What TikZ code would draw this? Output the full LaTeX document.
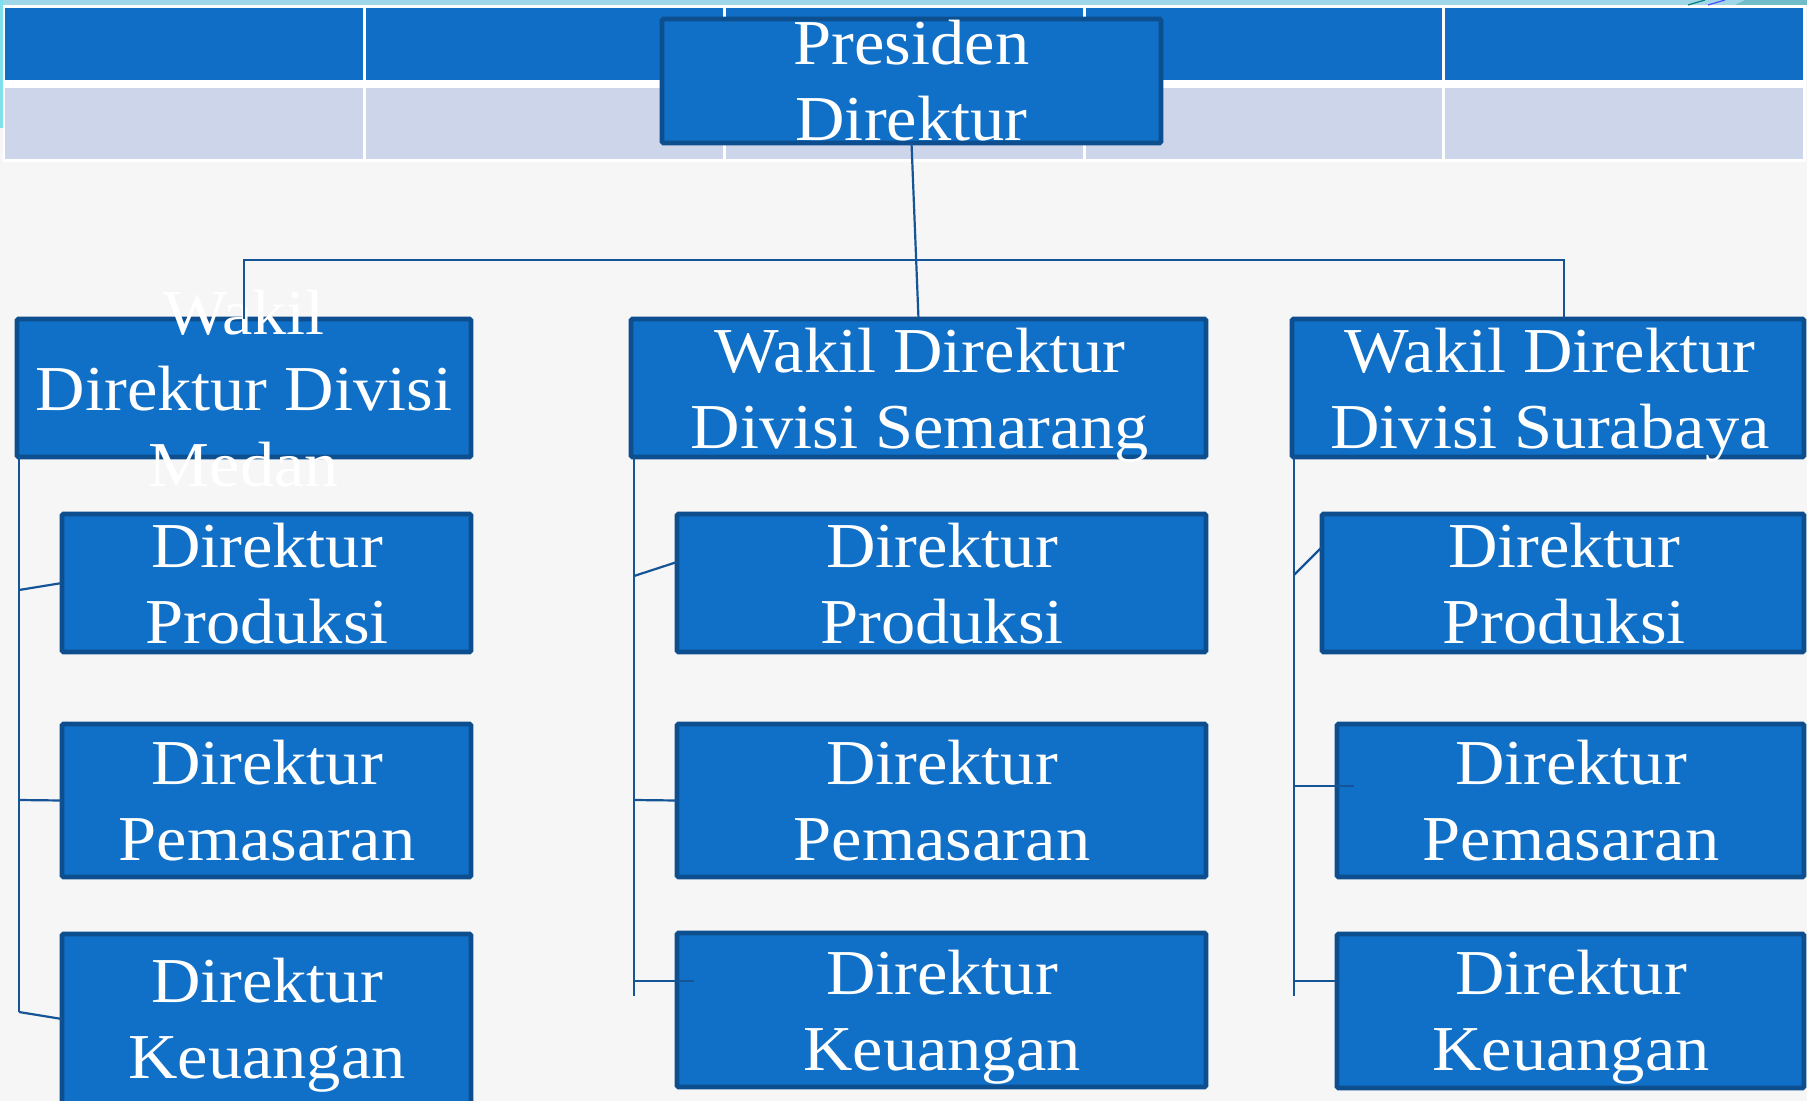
\documentclass[tikz,border=0pt]{standalone}
\usepackage{fontspec}
\setmainfont{Liberation Serif}[FakeStretch=1.07]
\usetikzlibrary{fit}
\definecolor{bg}{RGB}{246,246,246}
\definecolor{boxfill}{RGB}{16,111,198}
\definecolor{boxline}{RGB}{13,78,142}
\definecolor{hdr}{RGB}{16,110,198}
\definecolor{rowlight}{RGB}{205,213,234}
\definecolor{conn}{RGB}{22,84,152}
\definecolor{band}{RGB}{160,215,232}
\begin{document}
\begin{tikzpicture}[x=0.5pt,y=-0.5pt,
  bx/.style={draw=boxline, fill=boxfill, line width=2.4pt, inner sep=0pt, outer sep=0pt, rounded corners=0.8pt},
  txt/.style={text=white, align=center, inner sep=0pt, font=\fontsize{32}{38}\selectfont},
  cn/.style={draw=conn, line width=1.1pt}]
\useasboundingbox (0,0) rectangle (1807,1101);
\fill[bg] (0,0) rectangle (1807,1101);
% table in the background
\fill[white] (3,5) rectangle (1806,162);
\foreach \a/\b in {5/363, 366/723, 726/1083, 1086/1442, 1445/1803} {
  \fill[hdr] (\a,8) rectangle (\b,80);
  \fill[rowlight] (\a,88) rectangle (\b,159);
}
\fill[band] (0,0) rectangle (1807,5);
\fill[band!80!cyan] (0,0) rectangle (2.5,128);
\fill[band!70!teal] (1745,0) -- (1807,0) -- (1807,5) -- (1735,5) -- cycle;
\draw[teal, line width=0.6pt] (1688,5) -- (1705,0);
\draw[blue!70, line width=0.6pt] (1708,5) -- (1725,0);
% boxes
\node[bx, fit={(662,19) (1161,143)}] (pd) {};
\node[txt] (pdT) at (911.5,87.8) {\strut Presiden\\\strut Direktur};
\node[bx, fit={(17,319) (471,457)}] (wm) {};
\node[txt] (wmT) at (244,394.8) {\strut Wakil\\\strut Direktur Divisi\\\strut Medan};
\node[bx, fit={(631,319) (1206,457)}] (ws) {};
\node[txt] (wsT) at (920,394.8) {\strut Wakil Direktur\\\strut Divisi Semarang};
\node[bx, fit={(1292,319) (1804,457)}] (wb) {};
\node[txt] (wbT) at (1550,394.8) {\strut Wakil Direktur\\\strut Divisi Surabaya};
\node[bx, fit={(62,514) (471,652)}] (mp) {};
\node[txt] (mpT) at (267,589.8) {\strut Direktur\\\strut Produksi};
\node[bx, fit={(62,724) (471,877)}] (mm) {};
\node[txt] (mmT) at (267,806.8) {\strut Direktur\\\strut Pemasaran};
\node[bx, fit={(62,934) (471,1104)}] (mk) {};
\node[txt] (mkT) at (267,1024.8) {\strut Direktur\\\strut Keuangan};
\node[bx, fit={(677,514) (1206,652)}] (sp) {};
\node[txt] (spT) at (942,589.8) {\strut Direktur\\\strut Produksi};
\node[bx, fit={(677,724) (1206,877)}] (sm) {};
\node[txt] (smT) at (942,806.8) {\strut Direktur\\\strut Pemasaran};
\node[bx, fit={(677,933) (1206,1087)}] (sk) {};
\node[txt] (skT) at (942,1016.8) {\strut Direktur\\\strut Keuangan};
\node[bx, fit={(1322,514) (1804,652)}] (bp) {};
\node[txt] (bpT) at (1564,589.8) {\strut Direktur\\\strut Produksi};
\node[bx, fit={(1337,724) (1804,877)}] (bm) {};
\node[txt] (bmT) at (1571,806.8) {\strut Direktur\\\strut Pemasaran};
\node[bx, fit={(1337,934) (1804,1088)}] (bk) {};
\node[txt] (bkT) at (1571,1016.8) {\strut Direktur\\\strut Keuangan};
% connectors
\coordinate (hl) at (244,260);
\coordinate (hr) at (1564,260);
\draw[cn] (pd.south) -- (ws.north);
\draw[cn] (wm.north) -- (wm.north |- hl) -- (hr) -- (hr |- wb.north);
% Medan
\coordinate (mS) at (19,1012);
\coordinate (m1) at (19,590);
\coordinate (m2) at (19,800);
\draw[cn] (wm.south west -| mS) -- (mS);
\draw[cn] (m1) -- (mp.west);
\draw[cn] (m2) -- (mm.west);
\draw[cn] (mS) -- (mk.west);
% Semarang
\coordinate (sS) at (634,996);
\coordinate (s1) at (634,576);
\coordinate (s2) at (634,800);
\coordinate (s3) at (634,981);
\coordinate (s3e) at (694,981);
\draw[cn] (ws.south west -| sS) -- (sS);
\draw[cn] (s1) -- ([yshift=10.5pt]sp.west);
\draw[cn] (s2) -- (sm.west);
\draw[cn] (s3) -- (s3e);
% Surabaya
\coordinate (bS) at (1294,996);
\coordinate (b1) at (1294,575);
\coordinate (b2) at (1294,786);
\coordinate (b2e) at (1354,786);
\coordinate (b3) at (1294,981);
\draw[cn] (wb.south west -| bS) -- (bS);
\draw[cn] (b1) -- ([yshift=18pt]bp.west);
\draw[cn] (b2) -- (b2e);
\draw[cn] (b3) -- ([yshift=15pt]bk.west);
\end{tikzpicture}
\end{document}
